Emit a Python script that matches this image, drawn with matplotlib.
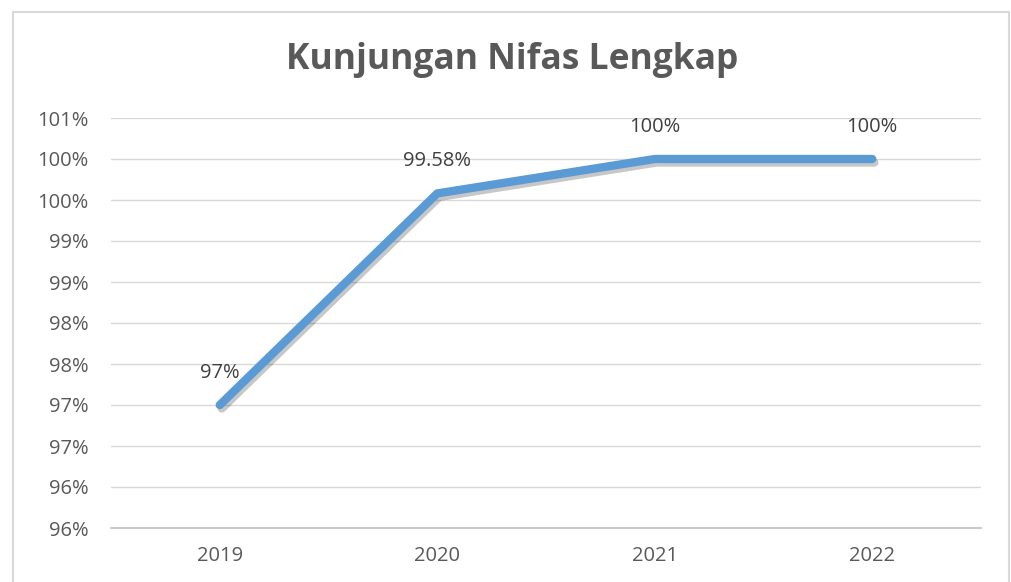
import matplotlib; matplotlib.use("Agg")
import matplotlib.pyplot as plt
import matplotlib.patheffects as pe
from matplotlib.patches import Rectangle
from matplotlib.ticker import FuncFormatter, MultipleLocator

plt.rcParams["font.family"] = ["Open Sans", "DejaVu Sans"]

# ---- data ----
years = ["2019", "2020", "2021", "2022"]
values = [97.0, 99.58, 100.0, 100.0]
point_labels = ["97%", "99.58%", "100%", "100%"]

TXT = "#595959"
LINE = "#5B9BD5"

fig = plt.figure(figsize=(10.11, 5.82), dpi=100)
ax = fig.add_axes([111/1011, 1 - 528/582, 870/1011, 410/582])

x = range(len(years))
ax.plot(x, values, color=LINE, lw=6, solid_capstyle="round", solid_joinstyle="round",
        path_effects=[pe.SimpleLineShadow(offset=(1.5, -2.5), shadow_color="black", alpha=0.22),
                      pe.Normal()], zorder=3)
for i, (v, t) in enumerate(zip(values, point_labels)):
    ax.annotate(t, (i, v), xytext=(0, 23), textcoords="offset points", ha="center", va="center",
                fontsize=14.5, color="#404040")

ax.set_xlim(-0.5, 3.5)
ax.set_ylim(95.5, 100.5)
ax.yaxis.set_major_locator(MultipleLocator(0.5))
ax.yaxis.set_major_formatter(FuncFormatter(lambda v, p: f"{int(v + 0.5 + 1e-9)}%"))
ax.set_xticks(list(x)); ax.set_xticklabels(years)
ax.tick_params(axis="both", length=0, labelsize=14.5, labelcolor=TXT)
ax.tick_params(axis="y", pad=16)
ax.tick_params(axis="x", pad=13)
ax.grid(axis="y", color="#d9d9d9", lw=1)
ax.set_axisbelow(True)
for s in ["top", "right", "left"]: ax.spines[s].set_visible(False)
ax.spines["bottom"].set_color("#bfbfbf")
ax.spines["bottom"].set_linewidth(1.2)

fig.text(512/1011, 1 - 60/582, "Kunjungan Nifas Lengkap", ha="center", va="center",
         fontsize=25.5, fontweight="bold", color=TXT)

# chart-area frame, open at the bottom edge of the image
fig.patches.append(Rectangle((13/1011, -0.01), (1009 - 13)/1011, 1.01 - 12/582,
                             transform=fig.transFigure, fill=False, ec="#d9d9d9", lw=1.5))

fig.savefig("out.png", dpi=100)
